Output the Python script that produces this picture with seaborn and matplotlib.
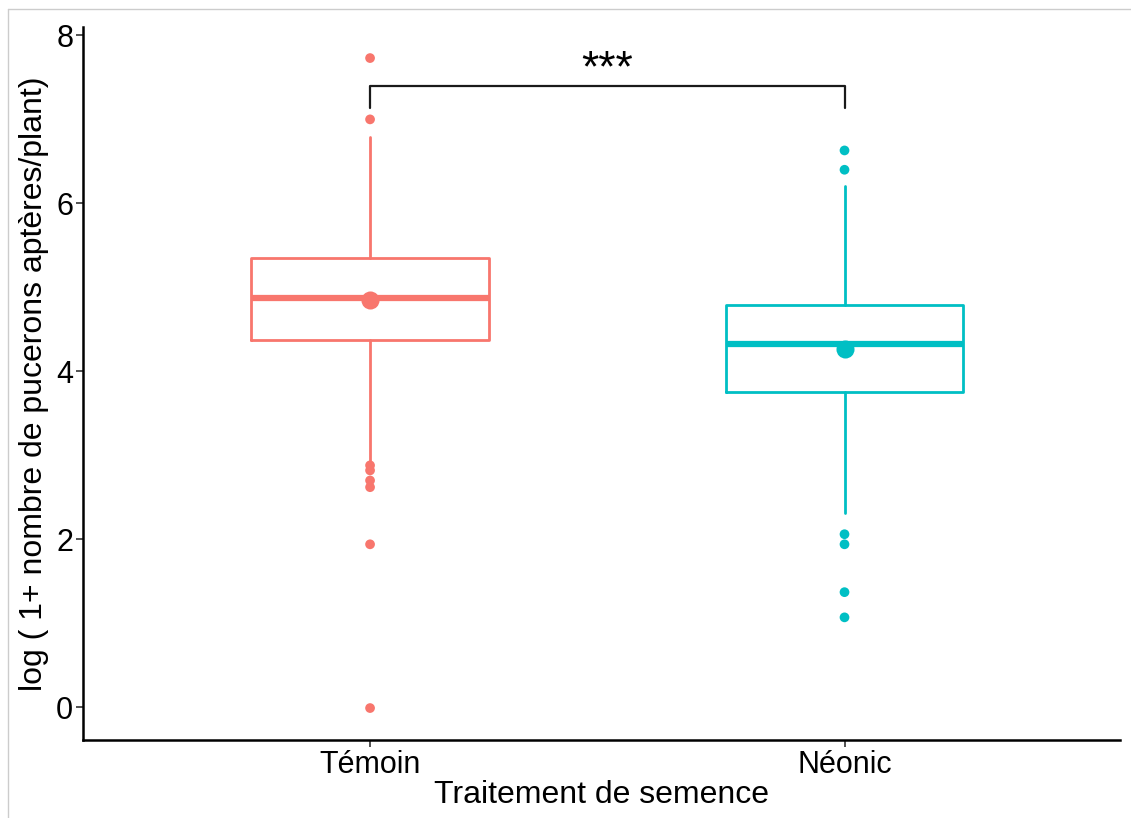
import matplotlib
matplotlib.use("Agg")
import matplotlib.pyplot as plt
from matplotlib.lines import Line2D
import seaborn as sns
import pandas as pd

# ---- data ----
groups = ["Témoin", "Néonic"]
q1 = [4.37, 3.75]
medians = [4.87, 4.33]
q3 = [5.345, 4.785]
whisk_lo = [2.90, 2.31]
whisk_hi = [6.79, 6.21]
means = [4.845, 4.26]
outliers_temoin = [7.73, 7.00, 2.88, 2.82, 2.70, 2.62, 1.94, -0.01]
outliers_neonic = [6.63, 6.40, 2.06, 1.94, 1.37, 1.07]
colors = ["#F8766D", "#00BFC4"]
signif_label = "***"
bracket_y = 7.40
bracket_tick = 7.14
yticks = [0, 2, 4, 6, 8]

sns.set_theme(style="white")
plt.rcParams["font.family"] = ["Liberation Sans", "DejaVu Sans"]

fig = plt.figure(figsize=(11.31, 8.18), dpi=100)
ax = fig.add_axes([0.0734, 0.0954, 0.9166, 0.8716])

# boxes
for i, g in enumerate(groups):
    st = [dict(med=medians[i], q1=q1[i], q3=q3[i], whislo=whisk_lo[i],
               whishi=whisk_hi[i], label=g, fliers=[])]
    ax.bxp(st, positions=[i], widths=0.5, showfliers=False, showcaps=False,
           patch_artist=False,
           boxprops=dict(color=colors[i], linewidth=2),
           whiskerprops=dict(color=colors[i], linewidth=2),
           medianprops=dict(color=colors[i], linewidth=4.5, solid_capstyle="butt"))

# outliers
out_df = pd.DataFrame({
    "group": [groups[0]] * len(outliers_temoin) + [groups[1]] * len(outliers_neonic),
    "value": outliers_temoin + outliers_neonic,
})
sns.stripplot(data=out_df, x="group", y="value", hue="group", order=groups,
              hue_order=groups, palette=colors, jitter=False, size=7,
              linewidth=0, legend=False, ax=ax, zorder=5)

# means
mean_df = pd.DataFrame({"group": groups, "value": means})
sns.stripplot(data=mean_df, x="group", y="value", hue="group", order=groups,
              hue_order=groups, palette=colors, jitter=False, size=13,
              linewidth=0, legend=False, ax=ax, zorder=6)

# significance bracket
ax.plot([0, 0, 1, 1], [bracket_tick, bracket_y, bracket_y, bracket_tick],
        color="#1a1a1a", linewidth=1.6)
ax.text(0.5, bracket_y - 0.06, signif_label, ha="center", va="bottom",
        fontsize=32, color="black")

ax.set_xlim(-0.605, 1.58)
ax.set_ylim(-0.39, 8.1)
ax.set_yticks(yticks)
ax.set_yticklabels([str(t) for t in yticks], fontsize=22)
ax.set_xticks([0, 1])
ax.set_xticklabels(groups, fontsize=22)
ax.set_xlabel("Traitement de semence", fontsize=23, color="black", labelpad=0)
ax.set_ylabel("log ( 1+ nombre de pucerons aptères/plant)", fontsize=23,
              color="black", labelpad=5)
ax.tick_params(axis="both", which="both", length=5, width=1.2, color="#333333",
               labelcolor="black", left=True, bottom=True, pad=2)
for s in ["top", "right"]:
    ax.spines[s].set_visible(False)
for s in ["left", "bottom"]:
    ax.spines[s].set_color("black")
    ax.spines[s].set_linewidth(1.8)

# light frame border of the screenshot
fig.add_artist(Line2D([8 / 1131, 1], [1 - 9 / 818, 1 - 9 / 818],
                      transform=fig.transFigure, color="#cccccc", linewidth=1))
fig.add_artist(Line2D([8 / 1131, 8 / 1131], [0, 1 - 9 / 818],
                      transform=fig.transFigure, color="#cccccc", linewidth=1))

fig.savefig("out.png", dpi=100)
